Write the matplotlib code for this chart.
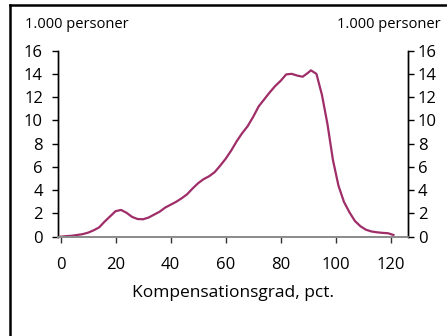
import numpy as np
import matplotlib.pyplot as plt
from matplotlib.lines import Line2D

plt.rcParams['font.family'] = ['Open Sans', 'DejaVu Sans']

# Data
komp_grad = [0, 2, 4, 6, 8, 10, 12, 14, 16, 18, 20, 22, 24, 26, 28, 30, 32, 34, 36, 38,
             40, 42, 44, 46, 48, 50, 52, 54, 56, 58, 60, 62, 64, 66, 68, 70, 72, 74, 76, 78,
             80, 82, 84, 86, 88, 90, 91, 93, 95, 97, 99, 101, 103, 105, 107, 109, 111, 113,
             115, 117, 119, 121]
personer = [0.0, 0.05, 0.08, 0.15, 0.22, 0.35, 0.55, 0.8, 1.3, 1.75, 2.2, 2.3, 2.05, 1.7,
            1.52, 1.5, 1.65, 1.9, 2.15, 2.5, 2.75, 3.0, 3.3, 3.65, 4.15, 4.6, 4.95, 5.2,
            5.55, 6.1, 6.7, 7.4, 8.2, 8.9, 9.5, 10.3, 11.2, 11.8, 12.4, 12.95, 13.4, 13.95,
            14.0, 13.85, 13.75, 14.1, 14.3, 14.0, 12.2, 9.7, 6.6, 4.4, 3.0, 2.1, 1.35, 0.9,
            0.6, 0.45, 0.38, 0.33, 0.3, 0.15]
x_ticks = [0, 20, 40, 60, 80, 100, 120]
y_ticks = [0, 2, 4, 6, 8, 10, 12, 14, 16]

fig = plt.figure(figsize=(4.47, 3.36), dpi=100)
ax = fig.add_axes([0.1304, 0.2955, 0.783, 0.554])

ax.plot(komp_grad, personer, color='#9e2d68', lw=1.6)

ax.set_xlim(-0.85, 126.4)
ax.set_ylim(0, 16)
ax.set_xticks(x_ticks)
ax.set_yticks(y_ticks)

# right axis as a twin so each side gets its own padding
ax2 = ax.twinx()
ax2.set_ylim(0, 16)
ax2.set_yticks(y_ticks)

for a in (ax, ax2):
    a.spines['top'].set_visible(False)
    a.spines['bottom'].set_color('#8c8c8c')
    a.spines['bottom'].set_linewidth(1.3)
    a.spines['left'].set_linewidth(1.0)
    a.spines['right'].set_linewidth(1.0)

ax.tick_params(axis='y', direction='out', length=4, width=1.0, labelsize=12, pad=7)
ax2.tick_params(axis='y', direction='out', length=4, width=1.0, labelsize=12, pad=3)
ax.tick_params(axis='x', direction='out', length=4.5, width=1.0, colors='#333333',
               labelcolor='black', labelsize=12, pad=10)

ax.set_xlabel('Kompensationsgrad, pct.', fontsize=12.5, labelpad=9)

fig.text(25 / 447, 1 - 28 / 336, '1.000 personer', fontsize=10.5, ha='left', va='baseline')
fig.text(441 / 447, 1 - 28 / 336, '1.000 personer', fontsize=10.5, ha='right', va='baseline')

# surrounding frame (cropped box)
fig.add_artist(Line2D([10 / 447, 10 / 447], [0, 1 - 5 / 336], transform=fig.transFigure,
                      color='black', lw=1.8))
fig.add_artist(Line2D([10 / 447, 1], [1 - 5 / 336, 1 - 5 / 336], transform=fig.transFigure,
                      color='black', lw=1.8))

fig.savefig('out.png', dpi=100)
